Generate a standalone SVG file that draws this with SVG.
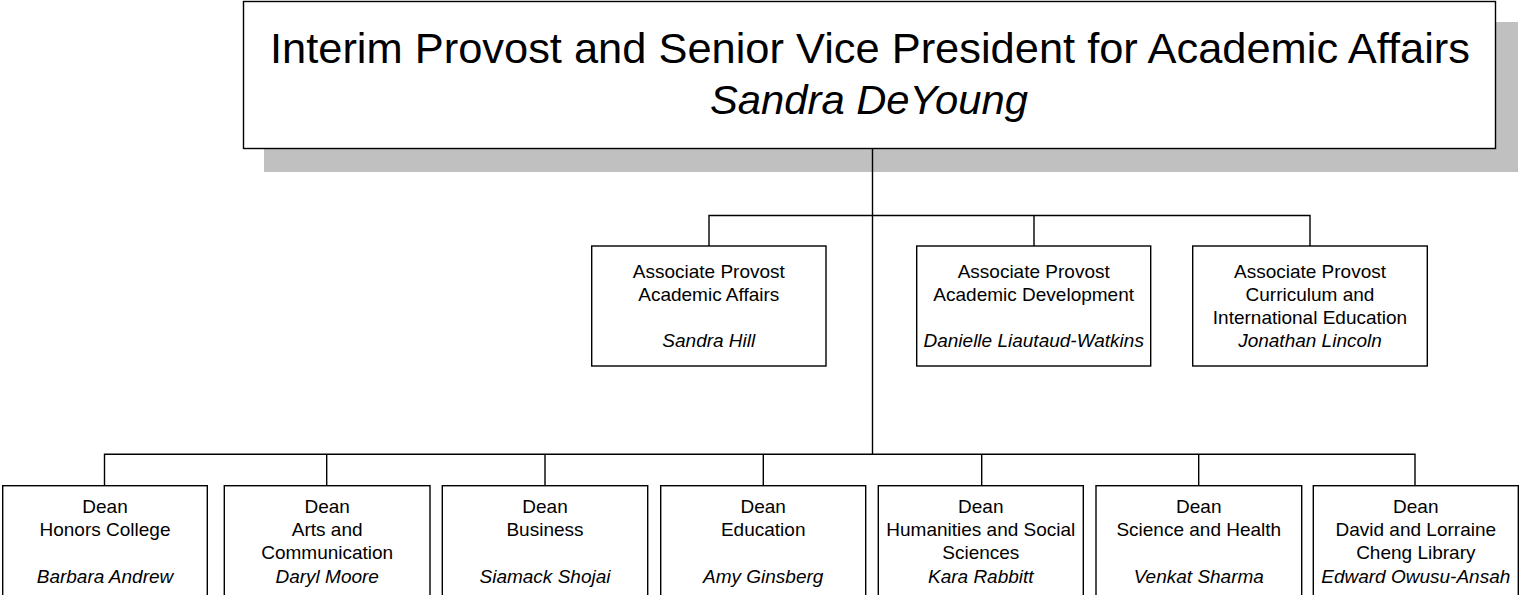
<svg xmlns="http://www.w3.org/2000/svg" width="1521" height="595" viewBox="0 0 1521 595">
<style>
.box{fill:#ffffff;stroke:#000000;stroke-width:1.4}
.shadow{fill:#c0c0c0;stroke:none}
.conn{fill:none;stroke:#000000;stroke-width:1.4}
text{font-family:"Liberation Sans",Arial,sans-serif;fill:#000000;text-anchor:middle}
.t{font-size:19px}
.n{font-size:19px;font-style:italic}
.big{font-size:43px}
.bigi{font-size:41px;font-style:italic}
</style>
<rect width="1521" height="595" fill="#ffffff"/>
<g id="provost">
<rect class="shadow" x="264" y="22" width="1254" height="150"/>
<rect class="box" x="243.5" y="1.5" width="1252" height="147"/>
<text class="big" x="870" y="63.3" textLength="1200" lengthAdjust="spacingAndGlyphs">Interim Provost and Senior Vice President for Academic Affairs</text>
<text class="bigi" x="869" y="114.3" textLength="318" lengthAdjust="spacingAndGlyphs">Sandra DeYoung</text>
</g>
<g id="connectors">
<path class="conn" d="M872.5 148.5 V454.3"/>
<path class="conn" d="M709 246 V215.5 H1310 V246 M1034 215.5 V246"/>
<path class="conn" d="M104.5 485.7 V454.3 H1415 V485.7 M326.7 454.3 V485.7 M545 454.3 V485.7 M763.3 454.3 V485.7 M981.7 454.3 V485.7 M1198.7 454.3 V485.7"/>
</g>
<g id="ap-academic-affairs">
<rect class="box" x="591.7" y="246" width="234.3" height="120"/>
<text class="t" x="708.8" y="278.3">Associate Provost</text>
<text class="t" x="708.8" y="300.7">Academic Affairs</text>
<text class="n" x="708.8" y="347">Sandra Hill</text>
</g>
<g id="ap-academic-development">
<rect class="box" x="916.7" y="246" width="234" height="120"/>
<text class="t" x="1033.7" y="278.3">Associate Provost</text>
<text class="t" x="1033.7" y="300.7">Academic Development</text>
<text class="n" x="1033.7" y="347">Danielle Liautaud-Watkins</text>
</g>
<g id="ap-curriculum">
<rect class="box" x="1192.7" y="246" width="234.6" height="120"/>
<text class="t" x="1310" y="278.3">Associate Provost</text>
<text class="t" x="1310" y="300.7">Curriculum and</text>
<text class="t" x="1310" y="324">International Education</text>
<text class="n" x="1310" y="347">Jonathan Lincoln</text>
</g>
<g id="dean-honors">
<rect class="box" x="2.7" y="485.7" width="204.6" height="120"/>
<text class="t" x="105" y="512.7">Dean</text>
<text class="t" x="105" y="535.7">Honors College</text>
<text class="n" x="105" y="582.7">Barbara Andrew</text>
</g>
<g id="dean-arts">
<rect class="box" x="224.3" y="485.7" width="205.7" height="120"/>
<text class="t" x="327.2" y="512.7">Dean</text>
<text class="t" x="327.2" y="535.7">Arts and</text>
<text class="t" x="327.2" y="559">Communication</text>
<text class="n" x="327.2" y="582.7">Daryl Moore</text>
</g>
<g id="dean-business">
<rect class="box" x="442.3" y="485.7" width="205.4" height="120"/>
<text class="t" x="545" y="512.7">Dean</text>
<text class="t" x="545" y="535.7">Business</text>
<text class="n" x="545" y="582.7">Siamack Shojai</text>
</g>
<g id="dean-education">
<rect class="box" x="660.7" y="485.7" width="205" height="120"/>
<text class="t" x="763.2" y="512.7">Dean</text>
<text class="t" x="763.2" y="535.7">Education</text>
<text class="n" x="763.2" y="582.7">Amy Ginsberg</text>
</g>
<g id="dean-humanities">
<rect class="box" x="878.3" y="485.7" width="205" height="120"/>
<text class="t" x="980.8" y="512.7">Dean</text>
<text class="t" x="980.8" y="535.7">Humanities and Social</text>
<text class="t" x="980.8" y="559">Sciences</text>
<text class="n" x="980.8" y="582.7">Kara Rabbitt</text>
</g>
<g id="dean-science">
<rect class="box" x="1096" y="485.7" width="205.7" height="120"/>
<text class="t" x="1198.8" y="512.7">Dean</text>
<text class="t" x="1198.8" y="535.7">Science and Health</text>
<text class="n" x="1198.8" y="582.7">Venkat Sharma</text>
</g>
<g id="dean-library">
<rect class="box" x="1313.3" y="485.7" width="205" height="120"/>
<text class="t" x="1415.8" y="512.7">Dean</text>
<text class="t" x="1415.8" y="535.7">David and Lorraine</text>
<text class="t" x="1415.8" y="559">Cheng Library</text>
<text class="n" x="1415.8" y="582.7">Edward Owusu-Ansah</text>
</g>
</svg>
